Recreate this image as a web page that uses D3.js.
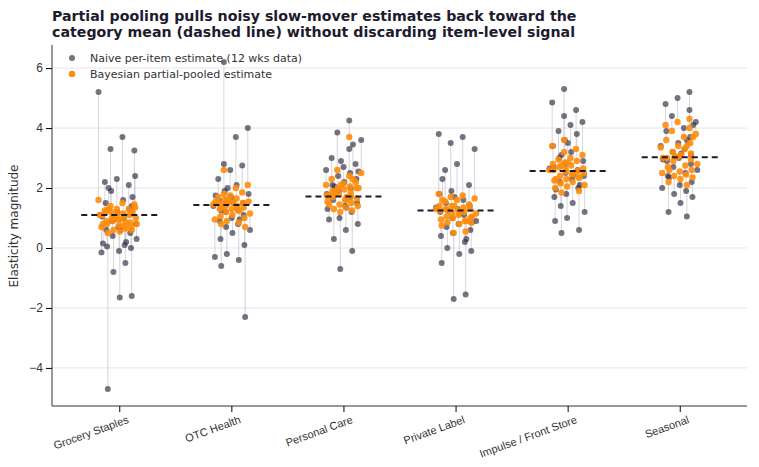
<!DOCTYPE html>
<html><head><meta charset="utf-8">
<script src="https://cdn.jsdelivr.net/npm/d3@7"></script>
<style>body{margin:0;background:#fff}svg{font-family:"DejaVu Sans",sans-serif}</style>
</head><body><svg id="c" width="759" height="467"></svg>
<script>
const categories = ["Grocery Staples","OTC Health","Personal Care","Private Label","Impulse / Front Store","Seasonal"];
const categoryMeans = [1.1,1.43,1.72,1.25,2.57,3.03];
const naiveGrocery = [5.2,3.7,3.3,3.25,2.3,2.2,2.1,1.9,2.4,1.6,1.5,1.3,1.2,1.1,1.0,0.9,0.8,0.7,0.6,0.5,0.4,0.3,0.1,0.05,0.0,-0.1,-0.15,-0.5,-0.8,-1.6,-1.65,-4.7,1.4,0.95,1.05,0.2,2.0,1.7,0.6,0.15];
const pooledGrocery = [1.6,1.5,1.4,1.45,1.3,1.25,1.3,1.2,1.35,1.15,1.2,1.1,1.15,1.1,1.05,1.0,1.0,0.95,0.9,0.85,0.9,0.8,0.75,0.8,0.7,0.75,0.7,0.65,0.6,0.6,0.55,0.5,1.15,1.05,1.1,0.85,1.3,1.2,0.95,0.8];
const naiveOTC = [6.2,4.0,3.7,2.8,2.75,2.6,2.3,2.1,1.9,1.8,1.7,1.6,1.5,1.45,1.4,1.3,1.2,1.1,1.0,0.9,0.8,0.7,0.6,0.5,0.3,0.1,-0.2,-0.3,-0.4,-0.6,-2.3,1.55,1.25,0.95,2.0,1.75];
const pooledOTC = [2.6,2.1,2.0,1.8,1.85,1.75,1.7,1.65,1.6,1.55,1.55,1.5,1.5,1.45,1.45,1.4,1.4,1.35,1.3,1.3,1.25,1.2,1.15,1.1,1.05,1.0,0.9,0.95,0.85,0.8,0.7,1.5,1.35,1.25,1.6,1.55];
const naivePersonal = [4.25,3.85,3.6,3.3,3.0,2.8,2.7,2.6,2.5,2.4,2.3,2.2,2.1,2.0,1.9,1.8,1.7,1.6,1.5,1.4,1.3,1.2,1.0,0.8,0.6,0.3,-0.1,-0.7,1.75,1.65,2.05,2.55,1.35,0.95,3.45,2.9];
const pooledPersonal = [3.7,2.6,2.5,2.4,2.3,2.2,2.15,2.1,2.05,2.0,2.0,1.95,1.9,1.85,1.8,1.75,1.72,1.7,1.65,1.6,1.55,1.5,1.45,1.4,1.35,1.3,1.25,1.2,1.75,1.7,1.85,2.0,1.6,1.45,2.3,2.1];
const naivePrivate = [3.8,3.7,3.5,3.3,2.8,2.6,2.1,1.9,1.8,1.6,1.5,1.4,1.3,1.2,1.1,1.0,0.9,0.8,0.7,0.6,0.5,0.4,0.2,0.0,-0.1,-0.2,-0.5,-1.55,-1.7,1.35,1.15,1.25,0.85,1.7,2.3,0.3];
const pooledPrivate = [1.8,1.75,1.7,1.65,1.6,1.55,1.45,1.4,1.4,1.35,1.3,1.3,1.28,1.25,1.2,1.15,1.15,1.1,1.05,1.0,1.0,0.95,0.9,0.85,0.85,0.8,0.75,0.55,0.5,1.3,1.2,1.25,1.05,1.4,1.6,0.9];
const naiveImpulse = [5.3,4.85,4.6,4.4,4.2,4.1,3.9,3.8,3.6,3.4,3.2,3.0,2.9,2.8,2.7,2.6,2.5,2.4,2.3,2.2,2.0,1.8,1.7,1.5,1.4,1.2,1.0,0.9,0.6,0.5,2.65,2.45,3.1,2.1,3.5,1.95];
const pooledImpulse = [3.6,3.4,3.3,3.2,3.1,3.0,2.95,2.9,2.85,2.8,2.75,2.7,2.65,2.62,2.6,2.57,2.55,2.5,2.45,2.4,2.35,2.3,2.25,2.2,2.15,2.1,2.05,2.0,1.9,1.85,2.6,2.5,2.75,2.35,2.85,2.3];
const naiveSeasonal = [5.2,5.0,4.8,4.6,4.4,4.2,4.0,3.9,3.7,3.5,3.4,3.3,3.2,3.1,3.0,2.9,2.8,2.7,2.6,2.5,2.4,2.2,2.1,2.0,1.9,1.8,1.7,1.5,1.2,1.05,3.05,2.95,3.6,2.35,4.1,3.15];
const pooledSeasonal = [4.3,4.2,4.1,4.0,3.9,3.8,3.7,3.6,3.5,3.4,3.35,3.3,3.2,3.15,3.05,3.0,2.95,2.9,2.8,2.75,2.7,2.6,2.55,2.5,2.45,2.4,2.35,2.3,2.2,2.1,3.05,3.0,3.4,2.6,3.7,3.1];
const yTicks = [-4,-2,0,2,4,6];

const naiveAll = [naiveGrocery,naiveOTC,naivePersonal,naivePrivate,naiveImpulse,naiveSeasonal];
const pooledAll = [pooledGrocery,pooledOTC,pooledPersonal,pooledPrivate,pooledImpulse,pooledSeasonal];

const svg = d3.select("#c");
const L=52,R=747,T=45,B=406;
const x = d3.scalePoint().domain(categories).range([L,R]).padding(0.6);
const y = d3.scaleLinear().domain([-5.27,6.77]).range([B,T]);
const step = x.step();

svg.append("g").selectAll("line").data(yTicks).join("line")
  .attr("x1",L).attr("x2",R).attr("y1",d=>y(d)).attr("y2",d=>y(d))
  .attr("stroke","#e6e6e6").attr("stroke-width",1);

const items=[];
categories.forEach((c,ci)=>{
  naiveAll[ci].forEach((v,i)=>{
    const j=(((i*0.6180339+ci*0.37)%1)-0.5)*0.32*step + ((i*0.311)%1-0.5)*0.05*step;
    items.push({c,naive:v,pooled:pooledAll[ci][i],dx:j});
  });
});

svg.append("g").selectAll("line").data(items).join("line")
  .attr("x1",d=>x(d.c)+d.dx).attr("x2",d=>x(d.c)+d.dx)
  .attr("y1",d=>y(d.naive)).attr("y2",d=>y(d.pooled))
  .attr("stroke","#b8b8c0").attr("stroke-width",0.8).attr("opacity",0.7);
svg.append("g").selectAll("circle").data(items).join("circle")
  .attr("cx",d=>x(d.c)+d.dx).attr("cy",d=>y(d.naive)).attr("r",3)
  .attr("fill","#2d2a40").attr("opacity",0.65);
svg.append("g").selectAll("circle").data(items).join("circle")
  .attr("cx",d=>x(d.c)+d.dx).attr("cy",d=>y(d.pooled)).attr("r",3.2)
  .attr("fill","#ff8c0a").attr("opacity",0.9);
svg.append("g").selectAll("line").data(categories).join("line")
  .attr("x1",d=>x(d)-38).attr("x2",d=>x(d)+38)
  .attr("y1",(d,i)=>y(categoryMeans[i])).attr("y2",(d,i)=>y(categoryMeans[i]))
  .attr("stroke","#1e1b2e").attr("stroke-width",2).attr("stroke-dasharray","6,4");

const ya = svg.append("g").attr("transform",`translate(${L},0)`)
  .call(d3.axisLeft(y).tickValues(yTicks).tickFormat(d=>d<0?"\u2212"+Math.abs(d):d).tickSizeOuter(0));
ya.select(".domain").attr("d",`M0,${T}V${B}`).attr("stroke","#333");
ya.selectAll("text").attr("font-size",12).attr("fill","#333");
const xa = svg.append("g").attr("transform",`translate(0,${B})`)
  .call(d3.axisBottom(x).tickSizeOuter(0));
xa.select(".domain").attr("d",`M${L},0H${R}`).attr("stroke","#333");
xa.selectAll("text").attr("font-size",11).attr("fill","#333")
  .attr("text-anchor","end").attr("transform","rotate(-20)").attr("dx","0.3em").attr("dy","0.9em");

svg.append("text").attr("transform","translate(18,226) rotate(-90)").attr("text-anchor","middle")
  .attr("font-size",12).attr("fill","#333").text("Elasticity magnitude");
const t=svg.append("text").attr("font-size",14.2).attr("font-weight","bold").attr("fill","#1e1b2e");
t.append("tspan").attr("x",52).attr("y",21).text("Partial pooling pulls noisy slow-mover estimates back toward the");
t.append("tspan").attr("x",52).attr("y",37).text("category mean (dashed line) without discarding item-level signal");

const lg=svg.append("g").attr("font-size",11).attr("fill","#333");
lg.append("circle").attr("cx",72).attr("cy",58).attr("r",3).attr("fill","#2d2a40").attr("opacity",0.65);
lg.append("text").attr("x",90).attr("y",62).text("Naive per-item estimate (12 wks data)");
lg.append("circle").attr("cx",72).attr("cy",74).attr("r",3.2).attr("fill","#ff8c0a");
lg.append("text").attr("x",90).attr("y",78).text("Bayesian partial-pooled estimate");
</script></body></html>
